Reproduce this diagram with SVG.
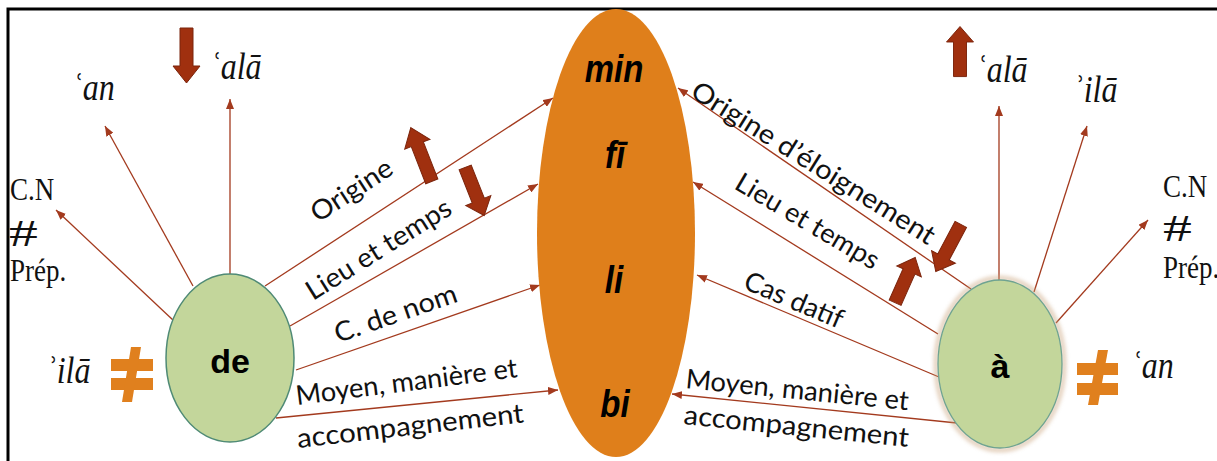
<svg xmlns="http://www.w3.org/2000/svg" width="1217" height="461" viewBox="0 0 1217 461">
<style>
.conn{stroke:#a33a1e;stroke-width:1.3;fill:none;marker-end:url(#ah)}
.serif{font-family:"Liberation Serif","Times New Roman",serif;fill:#111}
.it{font-style:italic;font-size:32px}
.rg{font-size:27px}
.lab{font-family:"Lato","Open Sans",sans-serif;font-size:27px;fill:#111}
.ctr{font-family:"Liberation Sans",Arial,sans-serif;font-weight:bold;font-style:italic;font-size:33px;fill:#000;text-anchor:middle}
.node{font-family:"Liberation Sans",Arial,sans-serif;font-weight:bold;font-size:34px;fill:#000;text-anchor:middle}
.blk{fill:#a0300f;stroke:#7b240c;stroke-width:1}
.neq{fill:#e0801e}
</style>
<defs>
<marker id="ah" viewBox="0 0 10 8" refX="10" refY="4" markerWidth="10" markerHeight="8" markerUnits="userSpaceOnUse" orient="auto"><path d="M0,0 L10,4 L0,8 z" fill="#a33a1e"/></marker>
<path id="uparrow" d="M0,-28 L13.5,-11 L6.5,-11 L6.5,27 L-6.5,27 L-6.5,-11 L-13.5,-11 Z"/>
<filter id="glow" x="-20%" y="-20%" width="140%" height="140%"><feGaussianBlur stdDeviation="2"/></filter>
</defs>
<rect width="1217" height="461" fill="#fff"/>
<path d="M8,461 L8,9 L1217,9" fill="none" stroke="#000" stroke-width="3"/>

<g id="connectors">
<line class="conn" x1="193" y1="286" x2="105" y2="126"/>
<line class="conn" x1="230" y1="274" x2="230" y2="99"/>
<line class="conn" x1="174" y1="321" x2="56" y2="210"/>
<line class="conn" x1="265" y1="286" x2="553" y2="98"/>
<line class="conn" x1="290" y1="326" x2="538" y2="184"/>
<line class="conn" x1="296" y1="370" x2="540" y2="285"/>
<line class="conn" x1="276" y1="418" x2="558" y2="390"/>
<line class="conn" x1="971" y1="289" x2="678" y2="88"/>
<line class="conn" x1="938" y1="334" x2="693" y2="182"/>
<line class="conn" x1="939" y1="377" x2="697" y2="275"/>
<line class="conn" x1="957" y1="423" x2="672" y2="394"/>
<line class="conn" x1="999" y1="281" x2="999" y2="106"/>
<line class="conn" x1="1034" y1="292" x2="1087" y2="126"/>
<line class="conn" x1="1056" y1="323" x2="1148" y2="220"/>
</g>

<g id="labels">
<text class="lab" transform="translate(318,223) rotate(-33)" textLength="92" lengthAdjust="spacingAndGlyphs">Origine</text>
<text class="lab" transform="translate(313,301) rotate(-32)" textLength="166" lengthAdjust="spacingAndGlyphs">Lieu et temps</text>
<text class="lab" transform="translate(338,343) rotate(-19)" textLength="128" lengthAdjust="spacingAndGlyphs">C. de nom</text>
<text class="lab" transform="translate(297,405) rotate(-7.2)" textLength="223" lengthAdjust="spacingAndGlyphs">Moyen, manière et</text>
<text class="lab" transform="translate(298,448) rotate(-6.5)" textLength="228" lengthAdjust="spacingAndGlyphs">accompagnement</text>
<text class="lab" transform="translate(689,96) rotate(32)" textLength="282" lengthAdjust="spacingAndGlyphs">Origine d’éloignement</text>
<text class="lab" transform="translate(733,188) rotate(30.5)" textLength="162" lengthAdjust="spacingAndGlyphs">Lieu et temps</text>
<text class="lab" transform="translate(742,288) rotate(23)" textLength="105" lengthAdjust="spacingAndGlyphs">Cas datif</text>
<text class="lab" transform="translate(685,388) rotate(5.7)" textLength="224" lengthAdjust="spacingAndGlyphs">Moyen, manière et</text>
<text class="lab" transform="translate(683,424) rotate(5.8)" textLength="226" lengthAdjust="spacingAndGlyphs">accompagnement</text>
</g>

<g id="block-arrows">
<use href="#uparrow" class="blk" transform="translate(186.5,55) rotate(180)"/>
<use href="#uparrow" class="blk" transform="translate(421.5,155) rotate(-21.3) scale(1,1.05)"/>
<use href="#uparrow" class="blk" transform="translate(474.5,191) rotate(158.4) scale(1,0.94)"/>
<use href="#uparrow" class="blk" transform="translate(960,52) scale(1,0.91)"/>
<use href="#uparrow" class="blk" transform="translate(948.5,247.5) rotate(-152) scale(1,0.97)"/>
<use href="#uparrow" class="blk" transform="translate(905,280.5) rotate(24) scale(1,0.9)"/>
</g>

<g id="node-prepositions">
<ellipse cx="616" cy="233" rx="79" ry="224" fill="#df7f1b"/>
<text class="ctr" transform="translate(614,82) scale(1,1.2)">min</text>
<text class="ctr" transform="translate(615,168) scale(1,1.2)">fī</text>
<text class="ctr" transform="translate(614,293) scale(1,1.2)">li</text>
<text class="ctr" transform="translate(615,417) scale(1,1.2)">bi</text>
</g>

<g id="node-de">
<ellipse cx="230" cy="358" rx="64" ry="84" fill="#c3d69b" stroke="#4f8a75" stroke-width="1.5"/>
<text class="node" x="230" y="373">de</text>
</g>

<g id="node-a">
<ellipse cx="1000" cy="364" rx="64" ry="86" fill="none" stroke="#c9a27a" stroke-width="4" opacity="0.6" filter="url(#glow)"/>
<ellipse cx="1000" cy="364" rx="62" ry="84" fill="#c3d69b" stroke="#6fa391" stroke-width="1.3"/>
<text class="node" x="1000" y="378">à</text>
</g>

<g id="left-targets">
<text class="serif it" transform="translate(72,100) scale(1,1.2)">ʿan</text>
<text class="serif it" transform="translate(210,79) scale(1,1.2)">ʿalā</text>
<text class="serif it" transform="translate(46,383) scale(1,1.2)">ʾilā</text>
<text class="serif rg" transform="translate(10,200) scale(1,1.2)">C.N</text>
<text class="serif" font-size="32" transform="translate(9,246) scale(1.8,1.2)">#</text>
<text class="serif rg" transform="translate(10,281) scale(1,1.2)">Prép.</text>
<g class="neq">
<rect x="111" y="359" width="42" height="12"/>
<rect x="111" y="378" width="42" height="12"/>
<polygon points="131,347 141,347 132,402 122,402"/>
</g>
</g>

<g id="right-targets">
<text class="serif it" transform="translate(976,82) scale(1,1.2)">ʿalā</text>
<text class="serif it" transform="translate(1073,102) scale(1,1.2)">ʾilā</text>
<text class="serif it" transform="translate(1131,378) scale(1,1.2)">ʿan</text>
<text class="serif rg" transform="translate(1163,197) scale(1,1.2)">C.N</text>
<text class="serif" font-size="32" transform="translate(1163,241) scale(1.8,1.2)">#</text>
<text class="serif rg" transform="translate(1163,278) scale(1,1.2)">Prép.</text>
<g class="neq">
<rect x="1077" y="363" width="41" height="12"/>
<rect x="1077" y="383" width="41" height="12"/>
<polygon points="1098,350 1108,350 1098,405 1088,405"/>
</g>
</g>
</svg>
